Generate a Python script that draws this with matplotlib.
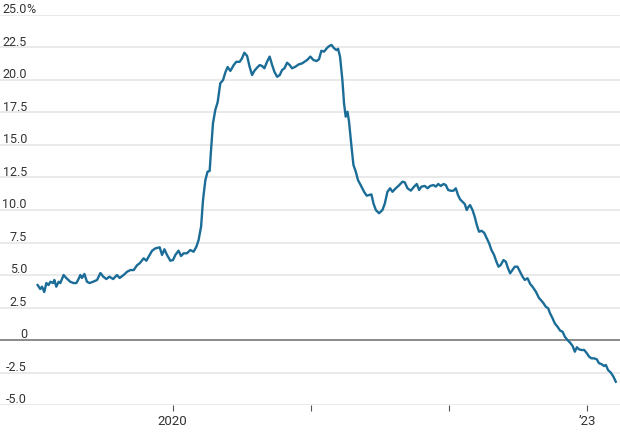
import numpy as np
import pandas as pd
import matplotlib
matplotlib.use('Agg')
import matplotlib.pyplot as plt

# ── Data (weekly, year-over-year % change) ─────────────────────────────────
YEARS = [
    2019.023, 2019.042, 2019.055, 2019.071, 2019.086, 2019.102, 2019.115, 2019.134,
    2019.144, 2019.158, 2019.175, 2019.187, 2019.199, 2019.211, 2019.230, 2019.259,
    2019.283, 2019.303, 2019.319, 2019.332, 2019.344, 2019.361, 2019.380, 2019.399,
    2019.424, 2019.453, 2019.477, 2019.498, 2019.520, 2019.542, 2019.569, 2019.597,
    2019.616, 2019.645, 2019.670, 2019.694, 2019.718, 2019.742, 2019.761, 2019.790,
    2019.810, 2019.826, 2019.851, 2019.875, 2019.906, 2019.923, 2019.940, 2019.959,
    2019.983, 2020.003, 2020.020, 2020.043, 2020.061, 2020.080, 2020.104, 2020.128,
    2020.152, 2020.172, 2020.188, 2020.206, 2020.220, 2020.237, 2020.253, 2020.268,
    2020.278, 2020.292, 2020.309, 2020.326, 2020.345, 2020.365, 2020.382, 2020.398,
    2020.418, 2020.442, 2020.461, 2020.485, 2020.502, 2020.519, 2020.539, 2020.557,
    2020.575, 2020.591, 2020.611, 2020.630, 2020.647, 2020.664, 2020.683, 2020.702,
    2020.720, 2020.736, 2020.756, 2020.775, 2020.792, 2020.809, 2020.828, 2020.847,
    2020.864, 2020.888, 2020.912, 2020.937, 2020.953, 2020.973, 2020.997, 2021.016,
    2021.040, 2021.057, 2021.074, 2021.093, 2021.113, 2021.129, 2021.147, 2021.166,
    2021.183, 2021.195, 2021.209, 2021.226, 2021.238, 2021.250, 2021.263, 2021.274,
    2021.292, 2021.306, 2021.323, 2021.339, 2021.359, 2021.383, 2021.402, 2021.419,
    2021.436, 2021.451, 2021.468, 2021.491, 2021.516, 2021.533, 2021.552, 2021.571,
    2021.588, 2021.612, 2021.636, 2021.661, 2021.677, 2021.697, 2021.721, 2021.745,
    2021.764, 2021.781, 2021.798, 2021.822, 2021.842, 2021.861, 2021.885, 2021.902,
    2021.919, 2021.938, 2021.958, 2021.974, 2021.991, 2022.011, 2022.030, 2022.047,
    2022.063, 2022.078, 2022.095, 2022.112, 2022.126, 2022.136, 2022.150, 2022.168,
    2022.184, 2022.199, 2022.215, 2022.233, 2022.252, 2022.271, 2022.288, 2022.305,
    2022.324, 2022.341, 2022.356, 2022.372, 2022.392, 2022.409, 2022.425, 2022.440,
    2022.457, 2022.474, 2022.493, 2022.512, 2022.530, 2022.546, 2022.566, 2022.585,
    2022.602, 2022.626, 2022.650, 2022.662, 2022.682, 2022.698, 2022.715, 2022.729,
    2022.747, 2022.763, 2022.783, 2022.802, 2022.819, 2022.836, 2022.855, 2022.874,
    2022.892, 2022.908, 2022.923, 2022.939, 2022.957, 2022.976, 2022.995, 2023.012,
    2023.029, 2023.048, 2023.067, 2023.084, 2023.101, 2023.120, 2023.133, 2023.149,
    2023.169, 2023.188, 2023.205,
]
VALUES = [
    4.23, 3.92, 4.10, 3.69, 4.38, 4.23, 4.48, 4.38,
    4.62, 4.10, 4.48, 4.38, 4.69, 5.00, 4.77, 4.48,
    4.38, 4.38, 4.69, 5.00, 4.77, 5.08, 4.48, 4.38,
    4.48, 4.62, 5.15, 4.87, 4.69, 4.87, 4.69, 5.00,
    4.77, 5.00, 5.25, 5.38, 5.38, 5.75, 5.90, 6.28,
    6.10, 6.41, 6.87, 7.05, 7.13, 6.54, 6.98, 6.54,
    6.10, 6.15, 6.54, 6.87, 6.46, 6.67, 6.67, 6.92,
    6.79, 7.18, 7.69, 8.72, 10.77, 12.30, 12.95, 13.00,
    14.60, 16.67, 17.70, 18.30, 19.75, 20.00, 20.60, 21.00,
    20.70, 21.15, 21.40, 21.40, 21.67, 22.10, 21.85, 21.02,
    20.38, 20.70, 20.95, 21.15, 21.08, 20.90, 21.40, 21.80,
    21.15, 20.64, 20.25, 20.38, 20.77, 20.90, 21.33, 21.15,
    20.90, 21.02, 21.20, 21.28, 21.40, 21.54, 21.80, 21.54,
    21.46, 21.60, 22.25, 22.18, 22.44, 22.60, 22.70, 22.44,
    22.30, 22.40, 21.80, 20.00, 18.20, 17.18, 17.56, 16.80,
    14.87, 13.46, 12.95, 12.30, 11.90, 11.40, 11.10, 11.15,
    11.20, 10.50, 10.00, 9.75, 10.00, 10.50, 11.40, 11.67,
    11.40, 11.67, 11.90, 12.18, 12.13, 11.67, 11.49, 11.80,
    12.00, 11.54, 11.80, 11.85, 11.67, 11.85, 11.92, 11.80,
    12.00, 11.85, 12.00, 11.92, 11.54, 11.48, 11.48, 11.67,
    11.15, 10.82, 10.64, 10.46, 10.00, 10.20, 10.38, 10.00,
    9.48, 8.85, 8.33, 8.40, 8.25, 7.82, 7.44, 6.92,
    6.54, 6.02, 5.64, 5.77, 6.15, 6.02, 5.51, 5.13,
    5.38, 5.64, 5.64, 5.25, 4.87, 4.62, 4.75, 4.31,
    4.10, 3.72, 3.21, 3.08, 2.82, 2.56, 2.44, 2.05,
    1.67, 1.28, 1.02, 0.72, 0.64, 0.25, 0.00, -0.21,
    -0.46, -0.90, -0.56, -0.72, -0.77, -0.77, -1.02, -1.28,
    -1.41, -1.41, -1.48, -1.79, -1.85, -2.00, -1.92, -2.31,
    -2.51, -2.82, -3.21,
]

Y_TICKS = [-5.0, -2.5, 0, 2.5, 5.0, 7.5, 10.0, 12.5, 15.0, 17.5, 20.0, 22.5, 25.0]
Y_LABELS = ['-5.0', '-2.5', '0', '2.5', '5.0', '7.5', '10.0', '12.5', '15.0',
            '17.5', '20.0', '22.5', '25.0']
X_TICKS = ['2020-01-01', '2021-01-01', '2022-01-01', '2023-01-01']
X_LABELS = ['2020', '', '', '\u201923']


def year_to_date(y):
    y = np.asarray(y)
    yr = np.floor(y).astype(int)
    starts = pd.to_datetime([f'{v}-01-01' for v in yr])
    return starts + pd.to_timedelta((y - yr) * 365.25, unit='D')


dates = year_to_date(YEARS)

FONT = ['Liberation Sans Narrow', 'Roboto', 'DejaVu Sans']
LINE_C = '#1b6d98'
GRID_C = '#e8e8e8'
TEXT_C = '#333333'

fig = plt.figure(figsize=(6.2, 4.4), dpi=100)
ax = fig.add_axes([0, 35 / 440, 1, 390 / 440])

for s in ax.spines.values():
    s.set_visible(False)

for yv in Y_TICKS:
    if yv == 0:
        ax.axhline(0, color='#8a8a8a', linewidth=1.4, zorder=2)
    else:
        ax.axhline(yv, color=GRID_C, linewidth=1.3, zorder=1)

ax.plot(dates, VALUES, color=LINE_C, linewidth=1.7, zorder=3,
        solid_joinstyle='round')

ax.set_ylim(-5, 25)
ax.set_xlim(pd.Timestamp('2018-10-02'), pd.Timestamp('2023-03-28'))
ax.set_yticks([])

ax.set_xticks(pd.to_datetime(X_TICKS))
ax.set_xticklabels(X_LABELS, family=FONT, fontsize=9.5, color=TEXT_C)
ax.tick_params(axis='x', length=4, width=0.8, color='#555555', pad=3,
               direction='out')

ytr = ax.get_yaxis_transform()
for yv, lab in zip(Y_TICKS, Y_LABELS):
    ax.text(0.0435, yv + 0.15, lab, transform=ytr, ha='right', va='baseline',
            family=FONT, fontsize=9, color=TEXT_C)
ax.text(0.042, Y_TICKS[-1] + 0.15, '%', transform=ytr, ha='left', va='baseline',
        family=FONT, fontsize=9, color=TEXT_C)

fig.savefig('out.png', dpi=100)
